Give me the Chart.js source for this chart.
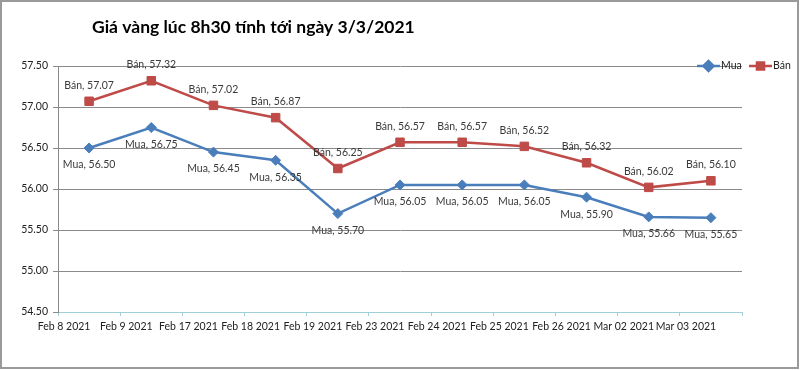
<!DOCTYPE html>
<html>
<head>
<meta charset="utf-8">
<title>Giá vàng</title>
<script src="https://cdn.jsdelivr.net/npm/chart.js@4/dist/chart.umd.min.js"></script>
<style>
  html, body { margin: 0; padding: 0; background: #fff; }
  #wrap { width: 800px; height: 370px; position: relative; }
</style>
</head>
<body>
<div id="wrap"><canvas id="goldChart" width="800" height="370"></canvas></div>
<script>
// Chart data
const chartTitle = 'Giá vàng lúc 8h30 tính tới ngày 3/3/2021';
const dateLabels = ['Feb 8 2021', 'Feb 9 2021', 'Feb 17 2021', 'Feb 18 2021', 'Feb 19 2021',
    'Feb 23 2021', 'Feb 24 2021', 'Feb 25 2021', 'Feb 26 2021', 'Mar 02 2021', 'Mar 03 2021'];
const muaPrices = [56.50, 56.75, 56.45, 56.35, 55.70, 56.05, 56.05, 56.05, 55.90, 55.66, 55.65];
const banPrices = [57.07, 57.32, 57.02, 56.87, 56.25, 56.57, 56.57, 56.52, 56.32, 56.02, 56.10];
const yMin = 54.5;
const yMax = 57.5;
const yStep = 0.5;

const BLUE = '#4a7ebb';
const RED = '#be4b48';
const FONT = 'Lato, Calibri, sans-serif';

/**
 * Draws title, legend, point labels and outer frame
 */
const decorPlugin = {
    id: 'decor',
    afterDatasetsDraw(chart) {
        const ctx = chart.ctx;
        ctx.save();

        // point labels
        ctx.font = '10.5px ' + FONT;
        ctx.fillStyle = '#3a3a3a';
        ctx.textAlign = 'center';
        ctx.textBaseline = 'middle';
        chart.data.datasets.forEach((ds, i) => {
            const meta = chart.getDatasetMeta(i);
            meta.data.forEach((pt, j) => {
                const text = ds.label + ', ' + ds.data[j].toFixed(2);
                const dy = ds.label === 'Bán' ? -16 : 17;
                ctx.fillText(text, pt.x, pt.y + dy);
            });
        });

        // title
        ctx.font = 'bold 17.5px ' + FONT;
        ctx.fillStyle = '#000';
        ctx.textAlign = 'left';
        ctx.textBaseline = 'alphabetic';
        ctx.fillText(chartTitle, 92, 33);

        // legend
        const legendY = 66;
        const items = [
            { label: 'Mua', color: BLUE, style: 'rectRot', x: 697 },
            { label: 'Bán', color: RED, style: 'rect', x: 749 }
        ];
        items.forEach(item => {
            ctx.strokeStyle = item.color;
            ctx.lineWidth = 2.5;
            ctx.beginPath();
            ctx.moveTo(item.x, legendY);
            ctx.lineTo(item.x + 23, legendY);
            ctx.stroke();
            ctx.fillStyle = item.color;
            Chart.helpers.drawPoint(ctx, { pointStyle: item.style, radius: 5, borderWidth: 1 }, item.x + 11.5, legendY);
            ctx.fill();
            ctx.fillStyle = '#222';
            ctx.font = '10.5px ' + FONT;
            ctx.textBaseline = 'middle';
            ctx.fillText(item.label, item.x + 24, legendY);
        });

        // outer frame
        ctx.strokeStyle = '#9a9a9a';
        ctx.lineWidth = 2;
        ctx.strokeRect(1, 1, 797, 367);
        ctx.restore();
    }
};

const ctx = document.getElementById('goldChart');

new Chart(ctx, {
    type: 'line',
    data: {
        labels: dateLabels,
        datasets: [
            {
                label: 'Mua',
                data: muaPrices,
                borderColor: BLUE,
                backgroundColor: BLUE,
                borderWidth: 2.5,
                pointStyle: 'rectRot',
                pointRadius: 5,
                pointBorderWidth: 1,
                tension: 0
            },
            {
                label: 'Bán',
                data: banPrices,
                borderColor: RED,
                backgroundColor: RED,
                borderWidth: 2.5,
                pointStyle: 'rect',
                pointRadius: 6,
                pointBorderWidth: 1,
                tension: 0
            }
        ]
    },
    options: {
        responsive: false,
        animation: false,
        layout: {
            padding: { top: 66, right: 58, bottom: 0, left: 0 }
        },
        plugins: {
            legend: { display: false },
            title: { display: false },
            tooltip: { enabled: false }
        },
        scales: {
            x: {
                offset: true,
                grid: {
                    offset: true,
                    drawOnChartArea: false,
                    drawTicks: true,
                    tickLength: 4,
                    color: '#9fd0d8'
                },
                border: { color: '#9fd0d8', width: 1 },
                ticks: {
                    autoSkip: false,
                    maxRotation: 0,
                    minRotation: 0,
                    labelOffset: -25,
                    padding: 4,
                    color: '#222',
                    font: { family: FONT, size: 10.5 }
                },
                afterFit: function(scale) {
                    scale.height = 370 - 312;
                }
            },
            y: {
                min: yMin,
                max: yMax,
                grid: {
                    color: '#8a8a8a',
                    drawTicks: true,
                    tickLength: 5
                },
                border: { color: '#8a8a8a' },
                ticks: {
                    stepSize: yStep,
                    padding: 5,
                    color: '#222',
                    font: { family: FONT, size: 10.5 },
                    callback: function(value) {
                        return value.toFixed(2);
                    }
                },
                afterFit: function(scale) {
                    scale.width = 58;
                }
            }
        }
    },
    plugins: [decorPlugin]
});
</script>
</body>
</html>
